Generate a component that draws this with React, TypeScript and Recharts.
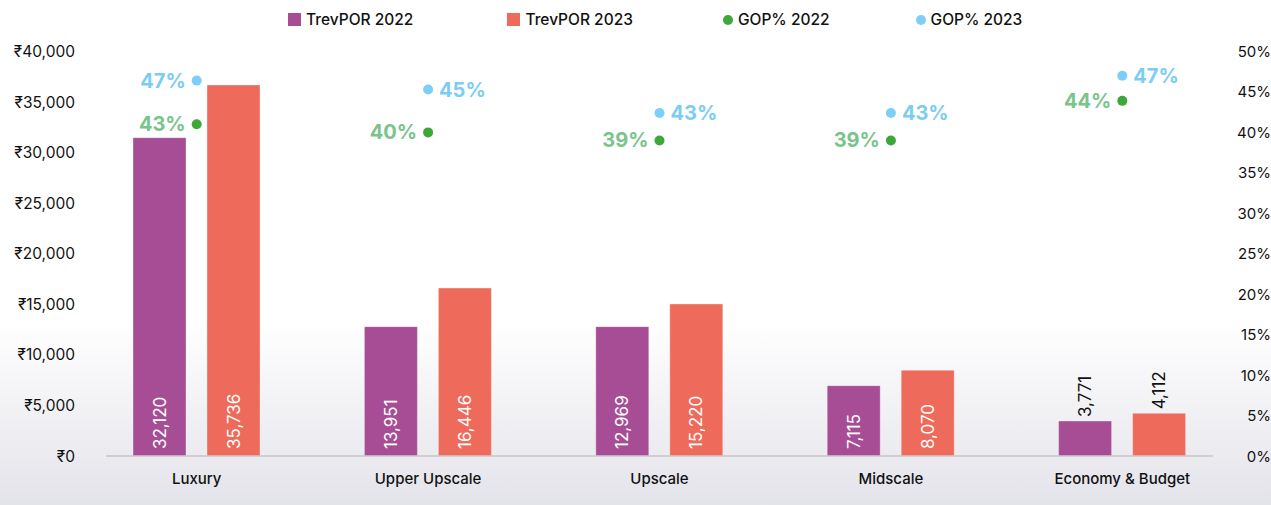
import React from "react";
import {
  ComposedChart,
  Bar,
  Line,
  XAxis,
  YAxis,
  LabelList,
  ReferenceLine,
} from "recharts";

const categories = ["Luxury", "Upper Upscale", "Upscale", "Midscale", "Economy & Budget"];
const trevpor2022 = [31480, 12790, 12790, 6950, 3460];
const trevpor2023 = [36690, 16610, 15030, 8480, 4220];
const trevpor2022Labels = ["32,120", "13,951", "12,969", "7,115", "3,771"];
const trevpor2023Labels = ["35,736", "16,446", "15,220", "8,070", "4,112"];
const gop2022 = [41.0, 40.0, 39.0, 39.0, 43.9];
const gop2023 = [46.4, 45.3, 42.4, 42.4, 47.0];
const gop2022Labels = ["43%", "40%", "39%", "39%", "44%"];
const gop2023Labels = ["47%", "45%", "43%", "43%", "47%"];
const gop2022Side = ["left", "left", "left", "left", "left"];
const gop2023Side = ["left", "right", "right", "right", "right"];
const leftTicks = [0, 5000, 10000, 15000, 20000, 25000, 30000, 35000, 40000];
const rightTicks = [0, 5, 10, 15, 20, 25, 30, 35, 40, 45, 50];

const data = categories.map((c, i) => ({
  name: c,
  t22: trevpor2022[i],
  t23: trevpor2023[i],
  l22: trevpor2022Labels[i],
  l23: trevpor2023Labels[i],
  g22: gop2022[i],
  g23: gop2023[i],
  gl22: gop2022Labels[i],
  gl23: gop2023Labels[i],
  gs22: gop2022Side[i],
  gs23: gop2023Side[i],
}));

const FONT = "Inter, 'Noto Sans', 'DejaVu Sans', sans-serif";
const PURPLE = "#a64d96";
const CORAL = "#ee6a5a";
const GREEN_DOT = "#3ea73a";
const GREEN_TXT = "#79c48b";
const BLUE_DOT = "#7dcff7";
const BLUE_TXT = "#7ccdf4";

const fmtRupee = (v: number) => "₹" + v.toLocaleString("en-US");

const BarValueLabel = (props: any) => {
  const { x, y, width, height, value } = props;
  const cx = Number(x) + Number(width) / 2;
  const h = Number(height);
  const inside = h > 55;
  const yb = inside ? Number(y) + h - 7 : Number(y) - 4;
  return (
    <text
      x={cx}
      y={yb}
      transform={`rotate(-90, ${cx}, ${yb})`}
      textAnchor="start"
      dominantBaseline="central"
      fill={inside ? "#ffffff" : "#111111"}
      fontSize={17}
      fontFamily={FONT}
    >
      {value}
    </text>
  );
};

const makeDot = (fill: string, txt: string, labelKey: string, sideKey: string) => (p: any) => {
  const { cx, cy, payload, index } = p;
  if (cx == null || cy == null) return <g key={index} />;
  const side = payload[sideKey];
  const left = side === "left";
  return (
    <g key={`${labelKey}-${index}`}>
      <circle cx={cx} cy={cy} r={5} fill={fill} />
      <text
        x={left ? cx - 11 : cx + 11}
        y={cy + 7}
        textAnchor={left ? "end" : "start"}
        fill={txt}
        fontSize={20}
        fontWeight={700}
        fontFamily={FONT}
      >
        {payload[labelKey]}
      </text>
    </g>
  );
};

const XTick = (props: any) => {
  const { x, y, payload } = props;
  return (
    <text
      x={x}
      y={Number(y) + 22}
      textAnchor="middle"
      dominantBaseline="central"
      fill="#111111"
      fontSize={15}
      fontWeight={500}
      fontFamily={FONT}
    >
      {payload.value}
    </text>
  );
};

const LeftTick = (props: any) => {
  const { x, y, payload } = props;
  return (
    <text x={x} y={y} textAnchor="end" dominantBaseline="central" fill="#111111" fontSize={15.5} fontFamily={FONT}>
      {fmtRupee(payload.value)}
    </text>
  );
};

const RightTick = (props: any) => {
  const { x, y, payload } = props;
  return (
    <text x={Number(x) + 27} y={y} textAnchor="end" dominantBaseline="central" fill="#111111" fontSize={15} fontFamily={FONT}>
      {payload.value + "%"}
    </text>
  );
};

const BaseLine = (props: any) => {
  const { x1, y1, x2, y2 } = props;
  if (x1 == null) return null;
  return <line x1={x1 + 25} y1={y1} x2={x2 - 25} y2={y2} stroke="#c6c6ca" strokeWidth={1.5} />;
};

const legendItems = [
  { label: "TrevPOR 2022", color: PURPLE, shape: "square", gap: 94 },
  { label: "TrevPOR 2023", color: CORAL, shape: "square", gap: 90 },
  { label: "GOP% 2022", color: GREEN_DOT, shape: "circle", gap: 86 },
  { label: "GOP% 2023", color: BLUE_DOT, shape: "circle", gap: 0 },
];

export default function App() {
  return (
    <div
      style={{
        position: "absolute",
        left: 0,
        top: 0,
        width: 1271,
        height: 505,
        background: "linear-gradient(to bottom, #ffffff 0px, #ffffff 322px, #e3e3ea 505px)",
        fontFamily: FONT,
        overflow: "hidden",
      }}
    >
      <div
        style={{
          position: "absolute",
          top: 10,
          left: 288,
          display: "flex",
          alignItems: "center",
          height: 19,
        }}
      >
        {legendItems.map((it) => (
          <div key={it.label} style={{ display: "flex", alignItems: "center", marginRight: it.gap }}>
            <span
              style={{
                display: "inline-block",
                width: it.shape === "square" ? 13 : 10,
                height: it.shape === "square" ? 13 : 10,
                borderRadius: it.shape === "square" ? 0 : "50%",
                background: it.color,
                marginRight: 5,
              }}
            />
            <span style={{ fontSize: 15.5, color: "#111111", whiteSpace: "nowrap", fontWeight: 500 }}>{it.label}</span>
          </div>
        ))}
      </div>
      <ComposedChart
        width={1271}
        height={505}
        data={data}
        margin={{ top: 51.5, right: 0, bottom: 0, left: 0 }}
        barSize={53}
        barGap={21}
        style={{ position: "absolute", left: 0, top: 0 }}
      >
        <XAxis
          dataKey="name"
          axisLine={false}
          tickLine={false}
          tickSize={0}
          tickMargin={0}
          height={49}
          tick={<XTick />}
          interval={0}
        />
        <YAxis
          yAxisId="left"
          orientation="left"
          width={81}
          domain={[0, 40000]}
          ticks={leftTicks}
          axisLine={false}
          tickLine={false}
          tickSize={0}
          tickMargin={6}
          tick={<LeftTick />}
          interval={0}
        />
        <YAxis
          yAxisId="right"
          orientation="right"
          width={33}
          domain={[0, 50]}
          ticks={rightTicks}
          axisLine={false}
          tickLine={false}
          tickSize={0}
          tickMargin={6}
          tick={<RightTick />}
          interval={0}
        />
        <ReferenceLine yAxisId="left" y={0} shape={<BaseLine />} ifOverflow="visible" />
        <Bar yAxisId="left" dataKey="t22" fill={PURPLE} stroke="#ffffff" strokeOpacity={0.35} isAnimationActive={false}>
          <LabelList dataKey="l22" content={<BarValueLabel />} />
        </Bar>
        <Bar yAxisId="left" dataKey="t23" fill={CORAL} stroke="#ffffff" strokeOpacity={0.35} isAnimationActive={false}>
          <LabelList dataKey="l23" content={<BarValueLabel />} />
        </Bar>
        <Line
          yAxisId="right"
          dataKey="g22"
          stroke="none"
          strokeWidth={0}
          dot={makeDot(GREEN_DOT, GREEN_TXT, "gl22", "gs22")}
          activeDot={false}
          isAnimationActive={false}
        />
        <Line
          yAxisId="right"
          dataKey="g23"
          stroke="none"
          strokeWidth={0}
          dot={makeDot(BLUE_DOT, BLUE_TXT, "gl23", "gs23")}
          activeDot={false}
          isAnimationActive={false}
        />
      </ComposedChart>
    </div>
  );
}
